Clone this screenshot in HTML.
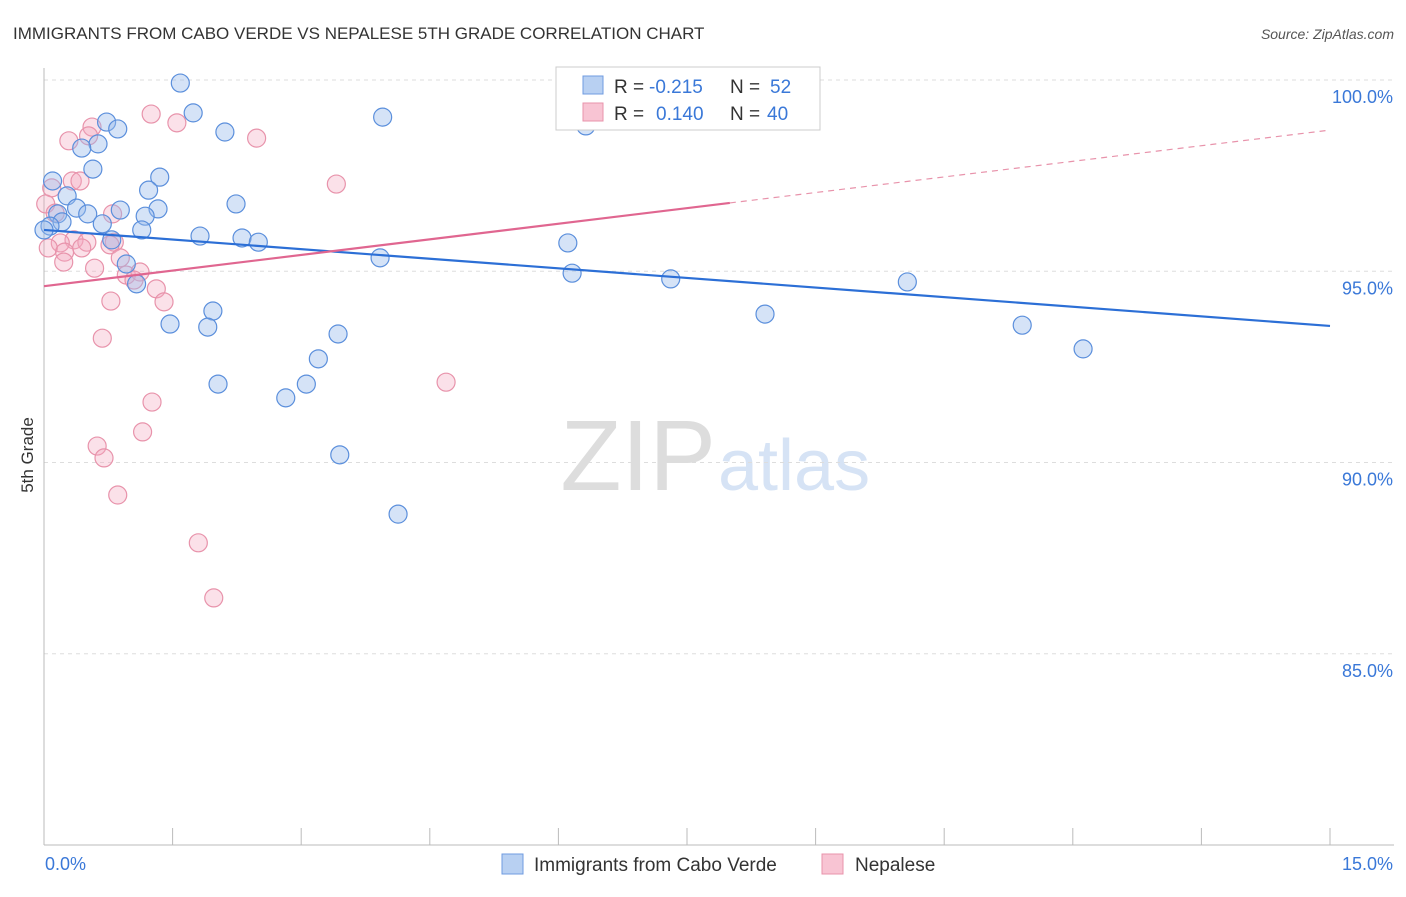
<!DOCTYPE html>
<html><head><meta charset="utf-8"><style>
body{margin:0;background:#fff;font-family:"Liberation Sans",sans-serif;}
svg text{font-family:"Liberation Sans",sans-serif;}
</style></head><body>
<svg id="chart" width="1406" height="892" xmlns="http://www.w3.org/2000/svg">
<text x="13" y="39" font-size="17" fill="#333">IMMIGRANTS FROM CABO VERDE VS NEPALESE 5TH GRADE CORRELATION CHART</text>
<text x="1394" y="39" font-size="14" fill="#555" text-anchor="end" font-style="italic">Source: ZipAtlas.com</text>
<text x="716" y="490" font-size="100" fill="#ddd" text-anchor="end" font-family="Liberation Serif">ZIP</text>
<text x="718" y="490" font-size="72" fill="#d6e3f5">atlas</text>
<text transform="translate(33,455) rotate(-90)" font-size="17" fill="#333" text-anchor="middle">5th Grade</text>
<g id="grid"></g><g id="ticks"></g><g id="pts"></g><g id="lines"></g>
<g>
<rect x="556" y="67" width="264" height="63" fill="#fff" stroke="#ccc"/>
<rect x="583" y="76" width="20" height="18" fill="#b8d0f2" stroke="#6f9be0"/>
<text x="614" y="93" font-size="19" fill="#333">R =</text>
<text x="649" y="93" font-size="19" fill="#3a78d8">-0.215</text>
<text x="730" y="93" font-size="19" fill="#333">N =</text>
<text x="770" y="93" font-size="19" fill="#3a78d8">52</text>
<rect x="583" y="103" width="20" height="18" fill="#f8c4d3" stroke="#e893ab"/>
<text x="614" y="120" font-size="19" fill="#333">R =</text>
<text x="656" y="120" font-size="19" fill="#3a78d8">0.140</text>
<text x="730" y="120" font-size="19" fill="#333">N =</text>
<text x="767" y="120" font-size="19" fill="#3a78d8">40</text>
</g>
<g>
<rect x="502" y="854" width="21" height="20" fill="#b8d0f2" stroke="#6f9be0"/>
<text x="534" y="871" font-size="19" fill="#333">Immigrants from Cabo Verde</text>
<rect x="822" y="854" width="21" height="20" fill="#f8c4d3" stroke="#e893ab"/>
<text x="855" y="871" font-size="19" fill="#333">Nepalese</text>
</g>
</svg>
<script>
const blueX=[1.59,0.73,0.86,1.74,2.11,3.95,6.32,0.63,0.44,0.57,1.35,1.22,0.10,0.27,2.24,0.89,1.33,0.38,0.51,1.18,0.16,0.68,1.14,0.21,0.07,1.82,2.31,2.50,0.79,6.11,3.92,0.96,6.16,7.31,10.07,1.08,1.97,1.47,1.91,8.41,11.41,3.43,3.20,12.12,2.03,3.06,2.82,3.45,4.13,7.49,8.65,0.0];
const blueY=[99.92,98.90,98.72,99.14,98.64,99.03,98.80,98.33,98.22,97.67,97.46,97.12,97.36,96.97,96.76,96.60,96.63,96.65,96.50,96.44,96.50,96.24,96.08,96.29,96.18,95.92,95.87,95.76,95.82,95.74,95.35,95.19,94.95,94.80,94.72,94.67,93.96,93.62,93.54,93.88,93.59,93.36,92.71,92.97,92.05,92.05,91.69,90.20,88.65,100.0,100.0,96.08];
const pinkX=[1.25,1.55,2.48,0.56,0.52,0.29,3.41,0.33,0.42,0.09,0.02,0.13,0.80,0.35,0.50,0.82,0.19,0.05,0.24,0.44,0.77,0.89,0.23,0.59,0.96,1.12,1.05,1.31,1.40,0.78,0.68,4.69,1.26,1.15,0.62,0.70,0.86,1.80,1.98,7.45];
const pinkY=[99.11,98.88,98.48,98.77,98.54,98.41,97.28,97.36,97.36,97.18,96.76,96.52,96.50,95.82,95.76,95.76,95.74,95.61,95.50,95.61,95.69,95.35,95.24,95.08,94.90,94.98,94.77,94.54,94.20,94.22,93.25,92.10,91.58,90.80,90.43,90.12,89.15,87.90,86.46,99.37];
const yTicks=[100,95,90,85];
const yTickLabels=["100.0%","95.0%","90.0%","85.0%"];
const xTicks=[0,1.5,3,4.5,6,7.5,9,10.5,12,13.5,15];
const blueTrend=[96.08,93.57];
const pinkTrend=[94.61,98.69];
const pinkSolidEnd=8.0;
const X=v=>44+v/15*1286, Y=v=>80+(100-v)*38.25;
const NS="http://www.w3.org/2000/svg";
function mk(t,a,p){const e=document.createElementNS(NS,t);for(const k in a)e.setAttribute(k,a[k]);p.appendChild(e);return e;}
const g=document.getElementById('grid'),tk=document.getElementById('ticks'),pts=document.getElementById('pts'),ln=document.getElementById('lines');
yTicks.forEach((v,i)=>{
 const l=mk('line',{x1:44,x2:1394,y1:Y(v),y2:Y(v),stroke:'#ddd','stroke-dasharray':'4,4'},g);
 
 
 const t=mk('text',{x:1393,y:Y(v)+23,'font-size':18,fill:'#3a78d8','text-anchor':'end'},tk);t.textContent=yTickLabels[i];
 
 
});
const ax=mk('line',{x1:44,x2:44,y1:68,y2:845,stroke:'#bbb'},tk);


const bx=mk('line',{x1:44,x2:1394,y1:845,y2:845,stroke:'#bbb'},tk);


xTicks.forEach(v=>{const l=mk('line',{x1:X(v),x2:X(v),y1:828,y2:845,stroke:'#bbb'},tk);
 
 });
const x0=mk('text',{x:45,y:870,'font-size':18,fill:'#3a78d8'},tk);x0.textContent='0.0%';


const x1=mk('text',{x:1393,y:870,'font-size':18,fill:'#3a78d8','text-anchor':'end'},tk);x1.textContent='15.0%';


pinkX.forEach((v,i)=>{const c=mk('circle',{cx:X(v),cy:Y(pinkY[i]),r:9,fill:'rgba(244,170,192,0.35)',stroke:'#e893ab','stroke-width':1.2},pts);
 
 });
blueX.forEach((v,i)=>{const c=mk('circle',{cx:X(v),cy:Y(blueY[i]),r:9,fill:'rgba(150,185,235,0.4)',stroke:'#5b8fdc','stroke-width':1.2},pts);
 
 });
const bt=mk('line',{x1:X(0),y1:Y(blueTrend[0]),x2:X(15),y2:Y(blueTrend[1]),stroke:'#2c6fd6','stroke-width':2.2},ln);


const pm=p=>pinkTrend[0]+(pinkTrend[1]-pinkTrend[0])*p/15;
const ps=mk('line',{x1:X(0),y1:Y(pinkTrend[0]),x2:X(pinkSolidEnd),y2:Y(pm(pinkSolidEnd)),stroke:'#e06690','stroke-width':2.2},ln);


const pd=mk('line',{x1:X(pinkSolidEnd),y1:Y(pm(pinkSolidEnd)),x2:X(15),y2:Y(pinkTrend[1]),stroke:'#e893ab','stroke-width':1.2,'stroke-dasharray':'6,5'},ln);


</script>
</body></html>
